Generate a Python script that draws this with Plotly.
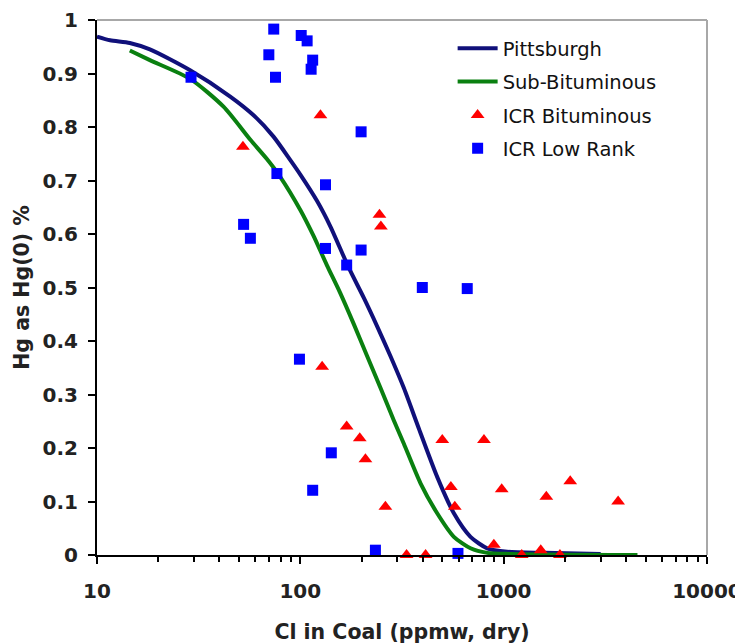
import plotly.graph_objects as go

# ---- data ----
pitt_x = [10, 11.6, 14.5, 18.2, 28.7, 45.2, 58.9, 73.8, 89.3, 100, 120.7, 140.6, 173, 205, 239, 278, 323, 383, 471, 569, 687, 830, 1040, 1574, 3000]
pitt_y = [0.969, 0.962, 0.957, 0.945, 0.906, 0.857, 0.822, 0.782, 0.738, 0.711, 0.662, 0.614, 0.537, 0.481, 0.427, 0.371, 0.312, 0.236, 0.146, 0.078, 0.034, 0.0125, 0.006, 0.004, 0.002]

sub_x = [14.5, 18.2, 28.7, 41.9, 56.8, 68.5, 79.6, 100, 116, 135, 157, 183, 213, 248, 288, 323, 390, 471, 569, 687, 830, 1080, 4550]
sub_y = [0.943, 0.925, 0.890, 0.838, 0.776, 0.740, 0.707, 0.645, 0.597, 0.542, 0.490, 0.432, 0.372, 0.312, 0.252, 0.208, 0.134, 0.078, 0.034, 0.0125, 0.004, 0.002, 0.0]

icr_bit_x = [125.6, 52.2, 245, 249, 128, 169, 196, 209, 262, 333, 413, 499, 550, 575, 800, 895, 978, 1227, 1522, 1621, 1891, 2125, 3655]
icr_bit_y = [0.822, 0.763, 0.636, 0.614, 0.352, 0.240, 0.218, 0.179, 0.090, 0.0, 0.0, 0.215, 0.127, 0.090, 0.215, 0.019, 0.123, 0.0, 0.009, 0.109, 0.0, 0.138, 0.100]

icr_low_x = [29, 74, 70, 75.5, 101, 108, 115, 113, 199, 76.7, 133, 52.6, 56.8, 133, 199, 169, 398, 662, 99, 142, 115, 234, 596]
icr_low_y = [0.893, 0.983, 0.935, 0.893, 0.971, 0.961, 0.925, 0.908, 0.791, 0.713, 0.692, 0.618, 0.592, 0.573, 0.570, 0.542, 0.500, 0.498, 0.366, 0.191, 0.121, 0.009, 0.003]

x_major = [10, 100, 1000, 10000]
x_major_labels = ["10", "100", "1000", "10000"]
x_minor = [m * d for d in (10, 100, 1000) for m in range(2, 10)]

BOLD_FONT = "DejaVu Sans, sans-serif"
LEG_FONT = "DejaVu Sans, sans-serif"

fig = go.Figure()
fig.add_trace(go.Scatter(x=pitt_x, y=pitt_y, mode="lines", name="Pittsburgh",
                         line=dict(color="#10107a", width=4, shape="spline", smoothing=0.7),
                         legendgroup="a"))
fig.add_trace(go.Scatter(x=sub_x, y=sub_y, mode="lines", name="Sub-Bituminous",
                         line=dict(color="#0a8010", width=4, shape="spline", smoothing=0.7),
                         legendgroup="b"))
fig.add_trace(go.Scatter(x=icr_bit_x, y=icr_bit_y, mode="markers", name="ICR Bituminous",
                         marker=dict(symbol="triangle-up", size=12, color="#ff0000"),
                         cliponaxis=False, legendgroup="c"))
fig.add_trace(go.Scatter(x=icr_low_x, y=icr_low_y, mode="markers", name="ICR Low Rank",
                         marker=dict(symbol="square", size=11, color="#0000ff"),
                         cliponaxis=False, legendgroup="d"))

# page body has an 8px margin, so the figure is sized to fit the window
fig.update_layout(
    width=735, height=636,
    margin=dict(l=89, r=36, t=12, b=89),
    paper_bgcolor="white", plot_bgcolor="white",
    showlegend=True,
    legend=dict(x=0.583, y=0.983, xanchor="left", yanchor="top",
                font=dict(family=LEG_FONT, size=19.5, color="#111"),
                bgcolor="rgba(0,0,0,0)", tracegroupgap=5, itemwidth=40),
    shapes=[
        dict(type="line", xref="paper", yref="paper", x0=0, x1=1, y0=1, y1=1,
             line=dict(color="#a8a8a8", width=2)),
        dict(type="line", xref="paper", yref="paper", x0=1, x1=1, y0=0, y1=1,
             line=dict(color="#a8a8a8", width=2)),
    ],
)

fig.update_xaxes(
    type="log", range=[1, 4], automargin=False,
    tickvals=x_major, ticktext=x_major_labels,
    ticks="outside", ticklen=7, tickwidth=1.5, tickcolor="black",
    minor=dict(tickvals=x_minor, ticks="outside", ticklen=5, tickwidth=1.5, tickcolor="black"),
    showline=True, linecolor="black", linewidth=2,
    showgrid=False, zeroline=False,
    tickfont=dict(family=BOLD_FONT, size=20, color="#222", weight="bold"),
    ticklabelstandoff=10,
    title=dict(text="Cl in Coal (ppmw, dry)", standoff=29,
               font=dict(family=BOLD_FONT, size=20.5, color="#222", weight="bold")),
)
fig.update_yaxes(
    range=[0, 1], dtick=0.1, tick0=0, automargin=False,
    ticks="outside", ticklen=7, tickwidth=1.5, tickcolor="black",
    showline=True, linecolor="black", linewidth=2,
    showgrid=False, zeroline=False,
    tickfont=dict(family=BOLD_FONT, size=20, color="#222", weight="bold"),
    ticklabelstandoff=6,
    title=dict(text="Hg as Hg(0) %", standoff=7,
               font=dict(family=BOLD_FONT, size=20.5, color="#222", weight="bold")),
)

fig.write_html("out.html")
